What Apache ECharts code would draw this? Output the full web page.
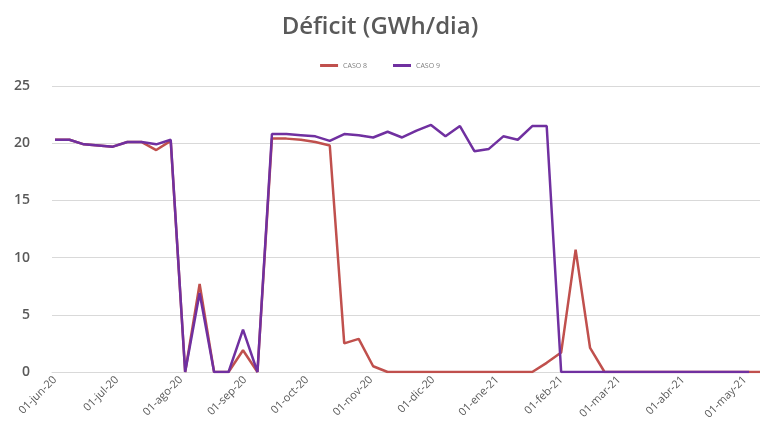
<!DOCTYPE html>
<html>
<head>
    <meta charset="utf-8">
    <title>Déficit</title>
    <script type="text/javascript" src="https://cdn.jsdelivr.net/npm/echarts@6/dist/echarts.min.js"></script>
    <style>
        html, body { margin: 0; padding: 0; background: #ffffff; }
    </style>
</head>
<body>
	<div id="main" style="height:432px; width:760px;"></div>
	<script type="text/javascript">
	// weekly dates (x values)
	var semanas = [
	    '2020-06-01','2020-06-08','2020-06-15','2020-06-22','2020-06-29',
	    '2020-07-06','2020-07-13','2020-07-20','2020-07-27','2020-08-03',
	    '2020-08-10','2020-08-17','2020-08-24','2020-08-31','2020-09-07',
	    '2020-09-14','2020-09-21','2020-09-28','2020-10-05','2020-10-12',
	    '2020-10-19','2020-10-26','2020-11-02','2020-11-09','2020-11-16',
	    '2020-11-23','2020-11-30','2020-12-07','2020-12-14','2020-12-21',
	    '2020-12-28','2021-01-04','2021-01-11','2021-01-18','2021-01-25',
	    '2021-02-01','2021-02-08','2021-02-15','2021-02-22','2021-03-01',
	    '2021-03-08','2021-03-15','2021-03-22','2021-03-29','2021-04-05',
	    '2021-04-12','2021-04-19','2021-04-26','2021-05-03','2021-05-10'
	];
	var caso8 = [
	    20.3, 20.3, 19.9, 19.8, 19.7, 20.1, 20.1, 19.4, 20.2, 0,
	    7.7, 0, 0, 1.9, 0, 20.4, 20.4, 20.3, 20.1, 19.8,
	    2.5, 2.9, 0.5, 0, 0, 0, 0, 0, 0, 0,
	    0, 0, 0, 0, 0.8, 1.7, 10.7, 2.1, 0, 0,
	    0, 0, 0, 0, 0, 0, 0, 0, 0, 0
	];
	var caso9 = [
	    20.3, 20.3, 19.9, 19.8, 19.7, 20.1, 20.1, 19.9, 20.3, 0,
	    6.9, 0, 0, 3.7, 0, 20.8, 20.8, 20.7, 20.6, 20.2,
	    20.8, 20.7, 20.5, 21.0, 20.5, 21.1, 21.6, 20.6, 21.5, 19.3,
	    19.5, 20.6, 20.3, 21.5, 21.5, 0, 0, 0, 0, 0,
	    0, 0, 0, 0, 0, 0, 0, 0, 0
	];
	var meses = ['2020-06-01','2020-07-01','2020-08-01','2020-09-01','2020-10-01','2020-11-01',
	    '2020-12-01','2021-01-01','2021-02-01','2021-03-01','2021-04-01','2021-05-01'];
	var nombresMes = ['ene','feb','mar','abr','may','jun','jul','ago','sep','oct','nov','dic'];
	var yTicks = [0, 5, 10, 15, 20, 25];

	function toTime(s) {
	    var p = s.split('-');
	    return new Date(+p[0], +p[1] - 1, +p[2]).getTime();
	}
	function pad(n) { return n < 10 ? '0' + n : '' + n; }
	function pares(vals) {
	    return vals.map(function (v, i) { return [toTime(semanas[i]), v]; });
	}

	var myChart = echarts.init(document.getElementById('main'));
	var option = {
	    animation: false,
	    backgroundColor: '#ffffff',
	    title: {
	        text: 'Déficit (GWh/dia)',
	        left: 'center',
	        top: 10,
	        textStyle: {fontFamily: 'Open Sans', fontSize: 24, fontWeight: 600, color: '#595959'}
	    },
	    legend: {
	        top: 57,
	        left: 'center',
	        icon: 'rect',
	        itemWidth: 18,
	        itemHeight: 3,
	        itemGap: 26,
	        textStyle: {fontFamily: 'Open Sans', fontSize: 7, color: '#7f7f7f'},
	        data: ['CASO 8', 'CASO 9']
	    },
	    grid: {left: 52, right: 0, top: 86, bottom: 60, containLabel: false},
	    xAxis: {
	        type: 'value',
	        min: new Date(2020, 4, 30, 13).getTime(),
	        max: new Date(2021, 4, 8, 6).getTime(),
	        axisLine: {show: true, lineStyle: {color: '#d9d9d9', width: 1}},
	        axisTick: {show: false},
	        splitLine: {show: false},
	        axisLabel: {
	            customValues: meses.map(toTime),
	            rotate: 45,
	            margin: 6,
	            fontFamily: 'Open Sans',
	            fontSize: 11,
	            color: '#595959',
	            formatter: function (v) {
	                var d = new Date(v);
	                return pad(d.getDate()) + '-' + nombresMes[d.getMonth()] + '-' + pad(d.getFullYear() % 100);
	            }
	        }
	    },
	    yAxis: {
	        type: 'value',
	        min: yTicks[0],
	        max: yTicks[yTicks.length - 1],
	        interval: 5,
	        axisLine: {show: false},
	        axisTick: {show: false},
	        splitLine: {lineStyle: {color: '#d9d9d9', width: 1}},
	        axisLabel: {margin: 22, fontFamily: 'Open Sans', fontSize: 14, fontWeight: 600, color: '#595959'}
	    },
	    series: [
	        {
	            name: 'CASO 8',
	            type: 'line',
	            symbol: 'none',
	            color: '#c0504d',
	            lineStyle: {width: 2.5, color: '#c0504d'},
	            data: pares(caso8)
	        },
	        {
	            name: 'CASO 9',
	            type: 'line',
	            symbol: 'none',
	            color: '#7030a0',
	            lineStyle: {width: 2.5, color: '#7030a0'},
	            data: pares(caso9)
	        }
	    ]
	};
	myChart.setOption(option);
	</script>
</body>
</html>
